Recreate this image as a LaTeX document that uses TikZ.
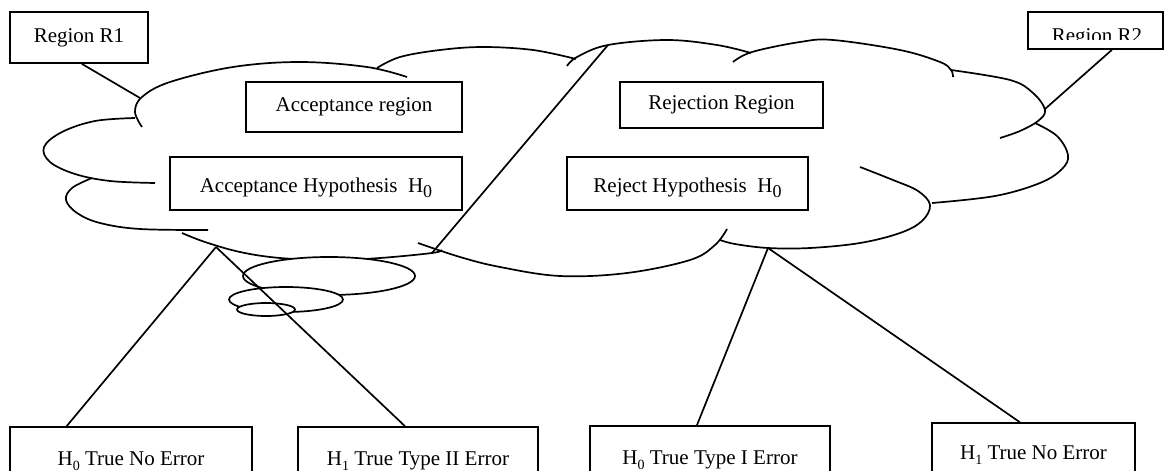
\documentclass[tikz,border=0pt]{standalone}
\usepackage{fontspec}
\setmainfont{Liberation Serif}
\usetikzlibrary{calc}

% subscript digit: size, drop
\newcommand{\hsub}[2][14]{\raisebox{-4.5pt}{\fontsize{#1}{#1}\selectfont #2}}

\tikzset{
  box/.style={draw, rectangle, line width=1.7pt, inner sep=0pt,
    font=\fontsize{21}{25}\selectfont},
  hypbox/.style={box, text height=22pt, text depth=4pt},
  lobe/.style={line width=1.7pt, smooth, tension=0.6},
  bubble/.style={draw, line width=1.7pt, fill=white},
  link/.style={line width=1.7pt}
}

\begin{document}
\begin{tikzpicture}[x=1pt, y=-1pt]

    \clip (0,0) rectangle (1165,471);

    % Cloud outline, lobe by lobe
    \draw[lobe] plot coordinates {(142,127) (135,112) (142,97) (170,82) (233,67) (300,62) (367,67) (407,77)};
    \draw[lobe] plot coordinates {(377,68) (400,57) (440,50) (483,47) (533,50) (576,59)};
    \draw[lobe] plot coordinates {(567,66) (577,57) (608,45) (667,40) (717,45) (751,53)};
    \draw[lobe] plot coordinates {(733,62) (752,52) (800,42) (833,40) (900,50) (940,62) (951,70) (953,77)};
    \draw[lobe] plot coordinates {(951,70) (1010,80) (1033,93) (1045,110) (1038,121) (1020,131) (1000,138)};
    \draw[lobe] plot coordinates {(1035,123) (1057,136) (1068,155) (1062,169) (1040,183) (995,196) (932,203)};
    \draw[lobe] plot coordinates {(860,167) (893,180) (918,191) (930,205) (922,221) (900,233) (860,243) (810,248) (768,248) (735,244) (720,240)};
    \draw[lobe] plot coordinates {(418,243) (460,257) (500,267) (560,276) (627,273) (690,260) (715,245) (727,229)};
    \draw[lobe] plot coordinates {(182,233) (205,242) (240,252) (280,258) (333,260) (380,258) (432,253) (442,250)};
    \draw[lobe] plot coordinates {(92,178) (72,188) (66,200) (77,213) (100,223) (140,229) (208,230)};
    \draw[lobe] plot coordinates {(135,118) (95,121) (62,132) (44,147) (50,162) (75,174) (110,181) (155,183)};

    % Thought bubbles under the cloud
    \draw[bubble] (329,276) ellipse [x radius=86pt, y radius=19pt];
    \draw[bubble] (286,299.5) ellipse [x radius=57pt, y radius=12.5pt];
    \draw[bubble] (266,309.5) ellipse [x radius=29pt, y radius=6.5pt];

    % Points on the cloud rim
    \coordinate (rimrone) at (140,98);
    \coordinate (rimrtwo) at (1045,109);
    \coordinate (rimtop) at (608,45);
    \coordinate (rimlow) at (432,253);
    \coordinate (rimacc) at (216,247);
    \coordinate (rimrej) at (768,248);

    % Region labels
    \node[box, minimum width=138pt, minimum height=51pt] (rone) at (79,37.5) {Region R1};
    \node[box, minimum width=135pt, minimum height=37pt] (rtwo) at (1095.5,30.5) {};
    \begin{scope}
        \clip (1028,12) rectangle (1163,39);
        \node[font=\fontsize{21}{25}\selectfont, anchor=base] (rtwotext) at (1097,42) {Region R2};
    \end{scope}

    % Regions inside the cloud
    \node[box, minimum width=216pt, minimum height=50pt] (accreg) at (354,107) {Acceptance region};
    \node[box, minimum width=203pt, minimum height=46pt] (rejreg) at (721.5,105) {Rejection Region};

    % Decisions
    \node[hypbox, minimum width=292pt, minimum height=53pt] (acchyp) at (316,183.5) {Acceptance Hypothesis~~H\hsub[18]{0}};
    \node[hypbox, minimum width=241pt, minimum height=53pt] (rejhyp) at (687.5,183.5) {Reject Hypothesis~~H\hsub[18]{0}};

    % Outcomes
    \node[box, minimum width=242pt, minimum height=68pt] (hzeronoerr) at (131,461) {H\hsub{0} True No Error};
    \node[box, minimum width=240pt, minimum height=68pt] (honetypetwo) at (418,461) {H\hsub{1} True Type II Error};
    \node[box, minimum width=240pt, minimum height=68pt] (hzerotypeone) at (710,460) {H\hsub{0} True Type I Error};
    \node[box, minimum width=203pt, minimum height=64pt] (hononoerr) at (1033.5,455) {H\hsub{1} True No Error};

    % Connect labels to the cloud
    \draw[link] ($(rone.south west)!0.52!(rone.south east)$) -- (rimrone);
    \draw[link] ($(rtwo.south west)!0.62!(rtwo.south east)$) -- (rimrtwo);

    % Border between the two regions
    \draw[link] (rimtop) -- (rimlow);

    % Connect decisions to outcomes
    \draw[link] (rimacc) -- ($(hzeronoerr.north west)!0.236!(hzeronoerr.north east)$);
    \draw[link] (rimacc) -- ($(honetypetwo.north west)!0.446!(honetypetwo.north east)$);
    \draw[link] (rimrej) -- ($(hzerotypeone.north west)!0.446!(hzerotypeone.north east)$);
    \draw[link] (rimrej) -- ($(hononoerr.north west)!0.433!(hononoerr.north east)$);

\end{tikzpicture}
\end{document}
